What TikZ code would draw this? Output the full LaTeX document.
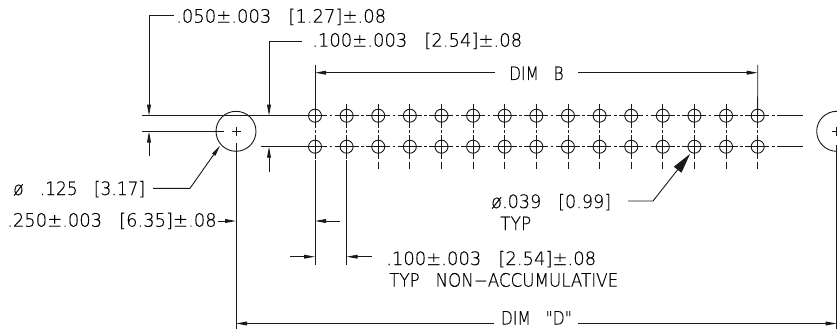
\documentclass[tikz,border=0pt]{standalone}
\usepackage{fontspec}
\usepackage{graphicx}
\newfontfamily\cadfont[FakeBold=0.25]{DejaVu Sans ExtraLight}
\usetikzlibrary{arrows.meta}
\newcommand{\fitw}[2]{\resizebox{#1pt}{\height}{#2}}
\newcommand{\dsp}{\hspace{0.95em}}
\tikzset{
  x=1pt,y=-1pt,
  ln/.style={line width=0.9pt,color=black!90},
  arr/.style={ln,-{Stealth[length=11pt,width=3.8pt,inset=0pt]}},
  bigarr/.style={ln,-{Stealth[length=20pt,width=9.5pt,inset=0pt]}},
  ctr/.style={ln,dash pattern=on 24pt off 2.5pt on 2.6pt off 2.5pt},
  hole/.style={draw,ln,circle,minimum size=13pt,inner sep=0pt},
  bighole/.style={draw,ln,circle,minimum size=40pt,inner sep=0pt},
  lbl/.style={inner sep=0pt,anchor=base west,font=\cadfont\fontsize{18.5pt}{18.5pt}\selectfont,text=black},
}
\begin{document}
\begin{tikzpicture}
\useasboundingbox (0,0) rectangle (837,329);
% holes
\foreach \c in {0,...,14}{
  \pgfmathsetmacro{\xx}{315+31.62*\c}
  \node[hole] (t\c) at (\xx,115.7) {};
  \node[hole] (b\c) at (\xx,146.7) {};
  \coordinate (vs\c) at (\xx,103.7);
  \coordinate (vm\c) at (\xx,159.3);
  \coordinate (vn\c) at (\xx,161.8);
  \coordinate (ve\c) at (\xx,168.5);
  \draw[ctr] (vs\c) -- (vm\c);
  \draw[ln] (vn\c) -- (ve\c);
}
% horizontal centre lines
\coordinate (ht) at (303,115.7); \coordinate (hte) at (801,115.7); \coordinate (htf) at (803,115.7);
\coordinate (hb) at (303,146.7); \coordinate (hbe) at (801,146.7); \coordinate (hbf) at (803,146.7);
\draw[ctr] (ht) -- (hte);
\draw[ctr] (hb) -- (hbe);
\draw[ln] (hte) -- (htf);
\draw[ln] (hbe) -- (hbf);
% big circles
\node[bighole] (L) at (236,131.3) {};
\node[bighole] (R) at (836.7,131.3) {};
\draw[ln] (231.5,131.3) -- (240.5,131.3);
\draw[ln] (236,126.8) -- (236,135.8);
\draw[ln] (832.2,131.3) -- (841.2,131.3);
\draw[ln] (836.7,126.8) -- (836.7,135.8);
% texts
\node[lbl] (t050) at (176,22.7) {\fitw{210}{.050±.003\dsp[1.27]±.08}};
\node[lbl] (t100) at (312,46.7) {\fitw{210}{.100±.003\dsp[2.54]±.08}};
\node[lbl] (dimB) at (509,80) {\fitw{54.5}{DIM\dsp B}};
\node[lbl] (t125) at (13,195) {\fitw{132}{ø\dsp.125\dsp[3.17]}};
\node[lbl] (t250) at (7,226.7) {\fitw{209.5}{.250±.003\dsp[6.35]±.08}};
\node[lbl] (t039) at (491,208) {\fitw{120}{ø.039\dsp[0.99]}};
\node[lbl] (typA) at (500,230) {\fitw{31}{TYP}};
\node[lbl] (t100b) at (386,265) {\fitw{210}{.100±.003\dsp[2.54]±.08}};
\node[lbl] (typB) at (389,286.7) {\fitw{229}{TYP\dsp NON−ACCUMULATIVE}};
\node[lbl] (dimD) at (500.7,324.5) {\fitw{71}{DIM\dsp "D"}};
% leader and dimension coordinates
\coordinate (a1) at (174,15); \coordinate (a2) at (149,15); \coordinate (a3) at (149,115.7);
\coordinate (a4) at (149,156); \coordinate (a5) at (149,131.5);
\coordinate (l0) at (141.7,115.7); \coordinate (l1) at (141.7,131.5); \coordinate (l2) at (224,131.5);
\draw[ln] (l0) -- (ht);
\draw[ln] (l1) -- (l2);
\draw[ln] (260.7,146.7) -- (hb);
\draw[arr] (a1) -- (a2) -- (a3);
\draw[arr] (a4) -- (a5);
\coordinate (c1) at (302,41); \coordinate (c2) at (269,41); \coordinate (c3) at (269,115.7);
\coordinate (c4) at (269,172); \coordinate (c5) at (269,146.7);
\draw[arr] (c1) -- (c2) -- (c3);
\draw[arr] (c4) -- (c5);
% DIM B
\coordinate (b1) at (315,65); \coordinate (b2) at (757.7,65);
\coordinate (b3) at (315,72.7); \coordinate (b4) at (495,72.7);
\coordinate (b5) at (578,72.7); \coordinate (b6) at (757.7,72.7);
\draw[ln] (b1) -- (t0.center);
\draw[ln] (b2) -- (t14.center);
\draw[arr] (b4) -- (b3);
\draw[arr] (b5) -- (b6);
% extension lines
\coordinate (e0) at (315,265); \coordinate (e1) at (346.6,265);
\coordinate (e0s) at (315,160); \coordinate (e1s) at (346.6,160);
\draw[ln] (e0s) -- (e0);
\draw[ln] (e1s) -- (e1);
\coordinate (d0) at (236,143); \coordinate (d1) at (236,329);
\coordinate (d2) at (836.7,145); \coordinate (d3) at (836.7,329);
\draw[ln] (d0) -- (d1);
\draw[ln] (d2) -- (d3);
% DIM D
\coordinate (f1) at (494,323.5); \coordinate (f2) at (236,323.5);
\coordinate (f3) at (578,323.5); \coordinate (f4) at (836.7,323.5);
\draw[arr] (f1) -- (f2);
\draw[arr] (f3) -- (f4);
% 125 leader
\coordinate (g1) at (153,188.3); \coordinate (g2) at (190,188.3); \coordinate (g3) at (220,145.7);
\draw[arr] (g1) -- (g2) -- (g3);
% 250 arrow
\coordinate (i1) at (218,221); \coordinate (i2) at (236,221);
\draw[arr] (i1) -- (i2);
% pitch arrows
\coordinate (j1) at (340,221); \coordinate (j2) at (315,221);
\coordinate (j3) at (290,256.7); \coordinate (j4) at (315,256.7);
\coordinate (j5) at (372,256.7); \coordinate (j6) at (346.6,256.7);
\draw[arr] (j1) -- (j2);
\draw[arr] (j3) -- (j4);
\draw[arr] (j5) -- (j6);
% 039 leader
\coordinate (k1) at (628,201); \coordinate (k2) at (653,201); \coordinate (k3) at (690,154);
\draw[bigarr] (k1) -- (k2) -- (k3);
\end{tikzpicture}
\end{document}
